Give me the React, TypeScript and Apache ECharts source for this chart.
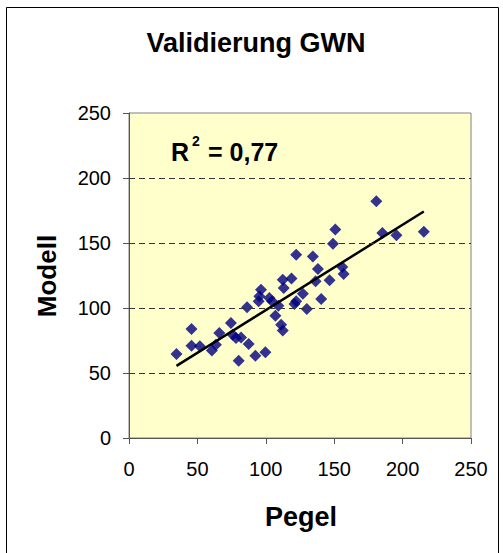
import React, { useEffect, useRef } from "react";
import * as echarts from "echarts";

const pegel = [34.7, 45.7, 45.7, 51.8, 60.6, 63.5, 66.0, 74.5, 75.8, 78.2, 81.9, 80.2, 86.3, 87.5, 92.4, 94.8, 95.3, 96.5, 99.7, 102.6, 104.6, 107.0, 109.2, 111.2, 112.4, 112.4, 113.1, 118.8, 122.2, 121.0, 122.2, 127.1, 130.0, 134.4, 136.4, 138.1, 140.5, 146.6, 149.1, 150.8, 155.9, 156.9, 180.8, 185.2, 195.5, 215.5];
const modell = [64.6, 83.8, 71.0, 70.5, 67.4, 71.8, 80.8, 88.5, 79.5, 76.9, 77.4, 59.5, 100.5, 72.3, 63.3, 105.1, 109.0, 114.1, 65.9, 107.7, 105.1, 94.1, 101.8, 87.2, 82.6, 121.8, 115.4, 122.6, 141.0, 103.1, 105.1, 111.0, 99.2, 139.7, 120.5, 130.0, 106.9, 121.3, 149.5, 160.3, 131.5, 126.2, 182.1, 157.7, 155.9, 158.7];
const axisTicks = [0, 50, 100, 150, 200, 250];
const gridValues = [50, 100, 150, 200];
const title = "Validierung GWN";
const xName = "Pegel";
const yName = "Modell";
const r2Text = "0,77";

function regression(xs: number[], ys: number[]) {
  const n = xs.length;
  const mx = xs.reduce((a, b) => a + b, 0) / n;
  const my = ys.reduce((a, b) => a + b, 0) / n;
  let sxy = 0, sxx = 0;
  for (let i = 0; i < n; i++) {
    sxy += (xs[i] - mx) * (ys[i] - my);
    sxx += (xs[i] - mx) * (xs[i] - mx);
  }
  const b = sxy / sxx;
  return { a: my - b * mx, b };
}

export default function App() {
  const ref = useRef<HTMLDivElement>(null);
  useEffect(() => {
    if (!ref.current) return;
    const chart = echarts.init(ref.current, null, { renderer: "svg" });
    const { a, b } = regression(pegel, modell);
    const xmin = Math.min(...pegel);
    const xmax = Math.max(...pegel);
    const font = "Liberation Sans, Arial, sans-serif";
    chart.setOption({
      animation: false,
      backgroundColor: "#ffffff",
      grid: {
        left: 129,
        right: 32,
        top: 113,
        bottom: 115,
        show: true,
        backgroundColor: "#FFFFCC",
        borderColor: "#808080",
        borderWidth: 1,
      },
      xAxis: {
        type: "value",
        min: axisTicks[0],
        max: axisTicks[axisTicks.length - 1],
        interval: 50,
        axisLine: { show: true, lineStyle: { color: "#555555", width: 1 } },
        axisTick: { show: true, inside: false, length: 6, lineStyle: { color: "#555555" } },
        axisLabel: { color: "#000", fontSize: 20, fontFamily: font, margin: 21 },
        splitLine: { show: false },
      },
      yAxis: {
        type: "value",
        min: axisTicks[0],
        max: axisTicks[axisTicks.length - 1],
        interval: 50,
        axisLine: { show: true, lineStyle: { color: "#555555", width: 1 } },
        axisTick: { show: true, inside: false, length: 6, lineStyle: { color: "#555555" } },
        axisLabel: { color: "#000", fontSize: 20, fontFamily: font, margin: 18 },
        splitLine: { show: false },
      },
      series: [
        {
          type: "line",
          data: [],
          z: 1,
          silent: true,
          markLine: {
            silent: true,
            symbol: "none",
            label: { show: false },
            lineStyle: { type: [6, 4], color: "#333333", width: 1 },
            data: gridValues.map((v) => ({ yAxis: v })),
          },
        },
        {
          type: "scatter",
          symbol: "diamond",
          symbolSize: 12,
          itemStyle: { color: "#000080" },
          data: pegel.map((x, i) => [x, modell[i]]),
          z: 3,
        },
        {
          type: "line",
          symbol: "none",
          lineStyle: { color: "#000", width: 2.5 },
          data: [
            [xmin, a + b * xmin],
            [xmax, a + b * xmax],
          ],
          z: 4,
        },
      ],
      graphic: [
        {
          type: "rect",
          shape: { x: 6.5, y: 7.5, width: 492, height: 560 },
          style: { fill: "none", stroke: "#000", lineWidth: 1 },
          silent: true,
        },
        {
          type: "text",
          x: 256,
          y: 43,
          style: { text: title, font: `bold 27px ${font}`, fill: "#000", textAlign: "center", textVerticalAlign: "middle" },
        },
        {
          type: "text",
          x: 301,
          y: 517,
          style: { text: xName, font: `bold 27px ${font}`, fill: "#000", textAlign: "center", textVerticalAlign: "middle" },
        },
        {
          type: "text",
          x: 47,
          y: 276,
          rotation: Math.PI / 2,
          style: { text: yName, font: `bold 26px ${font}`, fill: "#000", textAlign: "center", textVerticalAlign: "middle" },
        },
        {
          type: "text",
          x: 171,
          y: 152,
          style: { text: "R", font: `bold 25px ${font}`, fill: "#000", textAlign: "left", textVerticalAlign: "middle" },
        },
        {
          type: "text",
          x: 192,
          y: 141,
          style: { text: "2", font: `bold 14px ${font}`, fill: "#000", textAlign: "left", textVerticalAlign: "middle" },
        },
        {
          type: "text",
          x: 208,
          y: 152,
          style: { text: "= " + r2Text, font: `bold 25px ${font}`, fill: "#000", textAlign: "left", textVerticalAlign: "middle" },
        },
      ],
    });
    return () => chart.dispose();
  }, []);
  return (
    <div
      ref={ref}
      style={{ position: "fixed", left: 0, top: 0, width: 503, height: 553 }}
    />
  );
}
